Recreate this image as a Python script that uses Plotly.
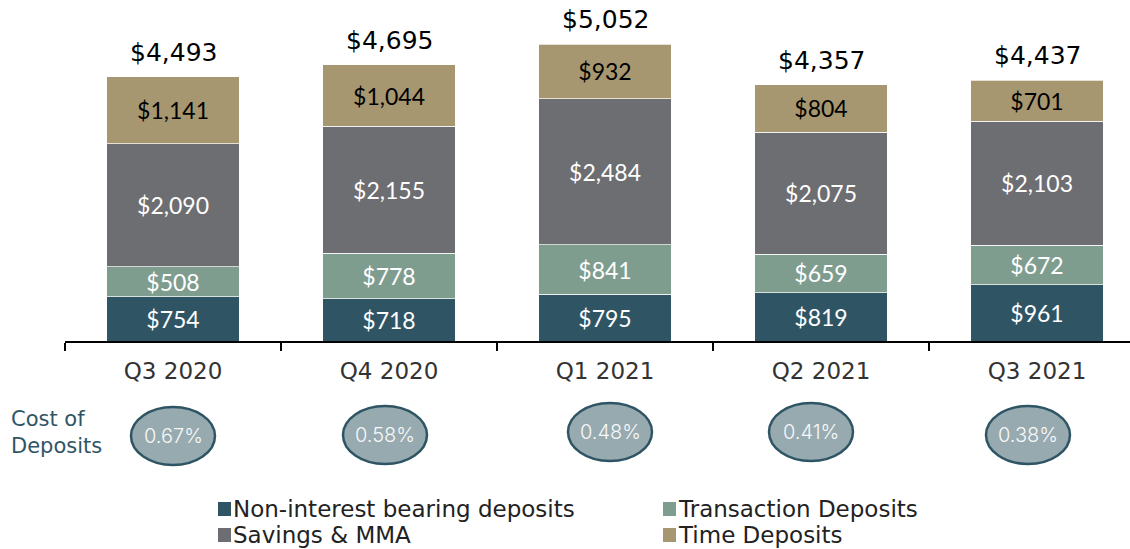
import plotly.graph_objects as go

# ---------------- data ----------------
quarters = ["Q3 2020", "Q4 2020", "Q1 2021", "Q2 2021", "Q3 2021"]
non_interest = [754, 718, 795, 819, 961]
transaction = [508, 778, 841, 659, 672]
savings_mma = [2090, 2155, 2484, 2075, 2103]
time_dep = [1141, 1044, 932, 804, 701]
totals = [4493, 4695, 5052, 4357, 4437]
cost_of_deposits = ["0.67%", "0.58%", "0.48%", "0.41%", "0.38%"]

series_names = ["Non-interest bearing deposits", "Transaction Deposits",
                "Savings & MMA", "Time Deposits"]
series_vals = [non_interest, transaction, savings_mma, time_dep]
colors = ["#2F5565", "#7F9D8F", "#6D6E72", "#A79770"]
text_colors = ["white", "white", "white", "black"]

# ---------------- layout geometry (window pixels; body margin removed) ----------------
W, H = 1130, 549
ML, MR, MT, MB = 65, 0, 18, 208
PW = W - ML - MR
PH = H - MT - MB
CAT_W = 216.0


def pxx(px):
    return (px - ML) / PW


def pxy(py):
    return (H - MB - py) / PH


MONT = "DejaVu Sans"

fig = go.Figure()
for name, vals, col, tc in zip(series_names, series_vals, colors, text_colors):
    fig.add_trace(go.Bar(
        x=quarters, y=vals, name=name,
        marker=dict(color=col, line=dict(color="rgba(255,255,255,0.7)", width=1)),
        text=[f"${v:,}" for v in vals],
        textposition="inside", insidetextanchor="middle", textangle=0,
        constraintext="none",
        textfont=dict(family="Lato", size=23, color=tc),
        hoverinfo="skip", showlegend=False,
    ))

annotations = []
for q, t in zip(quarters, totals):
    annotations.append(dict(
        x=q, y=t, xref="x", yref="y", text=f"${t:,}", showarrow=False,
        yanchor="bottom", yshift=8,
        font=dict(family=MONT, size=25, color="black"),
    ))

# cost of deposits ellipses
ell_cx = [173, 385, 610, 811, 1028]
ell_cy = [436, 435, 432, 432, 435]
ell_w, ell_h = 84, 58
shapes = []
for cx, cy, c in zip(ell_cx, ell_cy, cost_of_deposits):
    shapes.append(dict(
        type="circle", xref="paper", yref="paper",
        x0=pxx(cx - ell_w / 2), x1=pxx(cx + ell_w / 2),
        y0=pxy(cy + ell_h / 2), y1=pxy(cy - ell_h / 2),
        fillcolor="#97AAB0", line=dict(color="#2F5565", width=2.5),
        layer="above",
    ))
    annotations.append(dict(
        x=pxx(cx), y=pxy(cy), xref="paper", yref="paper", text=c,
        showarrow=False, xanchor="center", yanchor="middle",
        font=dict(family="Inter", size=20, weight=300, color="#F8F8F8"),
    ))

annotations.append(dict(
    x=pxx(9), y=pxy(432), xref="paper", yref="paper",
    text="Cost of<br>Deposits", showarrow=False, xanchor="left", yanchor="middle",
    align="left", font=dict(family=MONT, size=21, color="#2F5565"),
))

# manual legend
leg_pos = [(218, 509), (663, 509), (218, 535), (663, 535)]
for (lx, ly), name, col in zip(leg_pos, series_names, colors):
    shapes.append(dict(
        type="rect", xref="paper", yref="paper",
        x0=pxx(lx), x1=pxx(lx + 13), y0=pxy(ly + 7), y1=pxy(ly - 7),
        fillcolor=col, line=dict(width=0),
    ))
    annotations.append(dict(
        x=pxx(lx + 13), y=pxy(ly), xref="paper", yref="paper", text=name,
        showarrow=False, xanchor="left", yanchor="middle",
        font=dict(family=MONT, size=23, color="#222222"),
    ))

fig.update_layout(
    width=W, height=H,
    margin=dict(l=ML, r=MR, t=MT, b=MB, pad=0),
    barmode="stack", bargap=0.385,
    plot_bgcolor="white", paper_bgcolor="white",
    showlegend=False,
    shapes=shapes, annotations=annotations,
    xaxis=dict(
        range=[-0.5, -0.5 + PW / CAT_W],
        showline=True, linecolor="black", linewidth=1.5,
        ticks="outside", tickson="boundaries", ticklen=8, tickwidth=1.5,
        tickcolor="black", ticklabelstandoff=9,
        tickfont=dict(family=MONT, size=23, color="#333333"),
        showgrid=False, zeroline=False,
    ),
    yaxis=dict(range=[0, PH / (297 / 5052)], visible=False, showgrid=False),
)

fig.write_html(
    "out.html",
    config={"displayModeBar": False},
    post_script="document.body.style.margin='0px';document.body.style.overflow='hidden';",
)
